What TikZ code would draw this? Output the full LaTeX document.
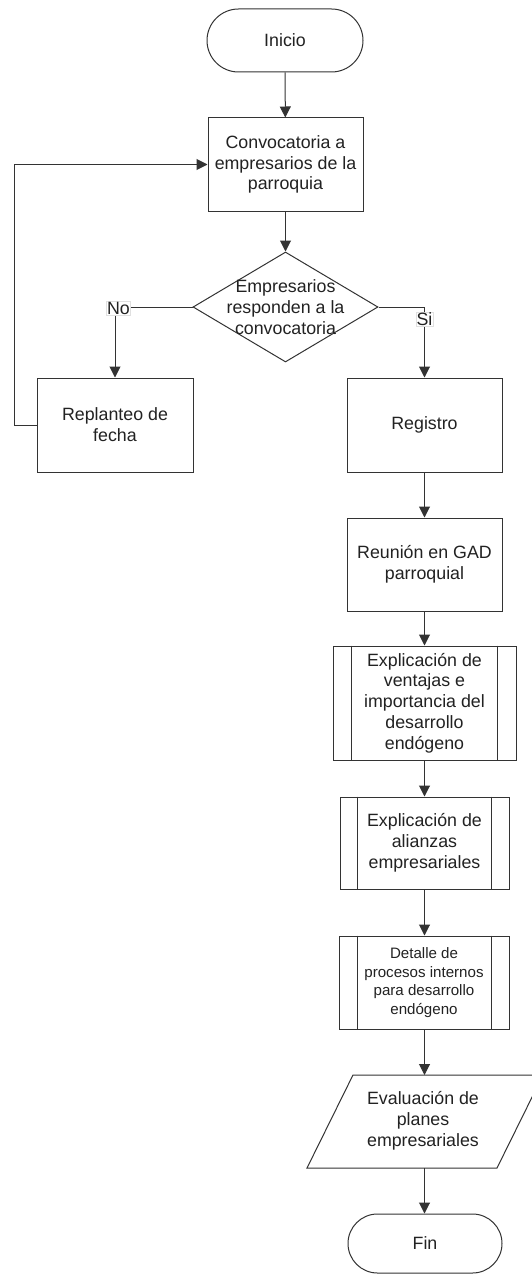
\documentclass[tikz,border=0pt]{standalone}
\usepackage{fontspec}
\setmainfont{Liberation Sans}
\usetikzlibrary{shapes.geometric,shapes.misc,arrows.meta}
\definecolor{lc}{HTML}{333333}
\definecolor{tc}{HTML}{222222}
\newcommand{\mainf}{\fontsize{17.8}{20.8}\selectfont}
\newcommand{\smallf}{\fontsize{15.1}{18.4}\selectfont}
\tikzset{
  box/.style={draw=lc, line width=1pt, fill=white, align=center, inner sep=0pt, text=tc, font=\mainf},
  term/.style={box, rounded rectangle, minimum width=156pt, minimum height=63pt},
  proc/.style={box, rectangle},
  lbl/.style={fill=white, draw=black!12, line width=0.4pt, inner sep=0.5pt, text=tc, font=\mainf},
  arr/.style={draw=lc, line width=1pt, -{Triangle[width=11pt,length=11pt]}},
  ln/.style={draw=lc, line width=1pt},
}
\begin{document}
\begin{tikzpicture}[x=1pt,y=-1pt]
\useasboundingbox (0,0) rectangle (532,1276);
\fill[white] (0,0) rectangle (532,1276);

\node[term] (ini) at (285,40.5) {Inicio};
\node[proc, minimum width=155pt, minimum height=93pt] (conv) at (285.5,164.5) {Convocatoria a\\empresarios de la\\parroquia};
\node[box, diamond, minimum width=185pt, minimum height=110pt] (dec) at (285.5,307) {};
\node[align=center, text=tc, font=\mainf, inner sep=0pt] (dectext) at (285.5,307) {Empresarios\\responden a la\\convocatoria};
\node[proc, minimum width=156pt, minimum height=94pt] (rep) at (115,425) {Replanteo de\\fecha};
\node[proc, minimum width=155pt, minimum height=94pt] (reg) at (424.5,425) {Registro};
\node[proc, minimum width=155pt, minimum height=93pt] (reu) at (424.5,564.5) {Reuni\'on en GAD\\parroquial};
\node[proc, minimum width=183pt, minimum height=114pt] (expa) at (424.5,703) {Explicaci\'on de\\ventajas e\\importancia del\\desarrollo\\end\'ogeno};
\node[proc, minimum width=169pt, minimum height=92pt] (expb) at (424.5,843) {Explicaci\'on de\\alianzas\\empresariales};
\node[proc, minimum width=170pt, minimum height=93pt, font=\smallf] (det) at (424,982.5) {Detalle de\\procesos internos\\para desarrollo\\end\'ogeno};

% sub-process inner lines
\draw[ln] ([xshift=19pt]expa.north west) -- ([xshift=19pt]expa.south west);
\draw[ln] ([xshift=-19pt]expa.north east) -- ([xshift=-19pt]expa.south east);
\draw[ln] ([xshift=18pt]expb.north west) -- ([xshift=18pt]expb.south west);
\draw[ln] ([xshift=-18pt]expb.north east) -- ([xshift=-18pt]expb.south east);
\draw[ln] ([xshift=19pt]det.north west) -- ([xshift=19pt]det.south west);
\draw[ln] ([xshift=-18pt]det.north east) -- ([xshift=-18pt]det.south east);

% parallelogram
\coordinate (evbl) at (307,1168);
\coordinate (evtl) at (353,1075);
\coordinate (evtr) at (543,1075);
\coordinate (evbr) at (497,1168);
\coordinate (evtop) at (424.5,1075);
\coordinate (evbot) at (424.5,1168);
\draw[ln, fill=white] (evbl) -- (evtl) -- (evtr) -- (evbr) -- cycle;
\node[align=center, text=tc, font=\mainf, inner sep=0pt] (ev) at (423,1120.5) {Evaluaci\'on de\\planes\\empresariales};

\node[term, minimum width=154pt, minimum height=59pt] (fin) at (425,1243.5) {Fin};

% connectors
\draw[arr] (ini) -- (conv);
\draw[arr] (conv) -- (dec.north);
\coordinate (nocorner) at (115,307);
\coordinate (sicorner) at (424.5,307);
\draw[arr] (dec.west) -- (nocorner) -- (rep.north);
\draw[arr] (dec.east) -- (sicorner) -- (reg.north);
\coordinate (loopa) at (14,425);
\coordinate (loopb) at (14,164.5);
\draw[arr] (rep.west) -- (loopa) -- (loopb) -- (conv.west);
\draw[arr] (reg) -- (reu);
\draw[arr] (reu) -- (expa);
\draw[arr] (expa) -- (expb);
\draw[arr] (expb.south) -- (expb.south |- det.north);
\draw[arr] (det.south -| evtop) -- (evtop);
\draw[arr] (evbot) -- (fin.north -| evbot);

% labels
\node[lbl] (nolbl) at (118.5,308) {No};
\node[lbl] (silbl) at (424.5,319.5) {Si};
\end{tikzpicture}
\end{document}
